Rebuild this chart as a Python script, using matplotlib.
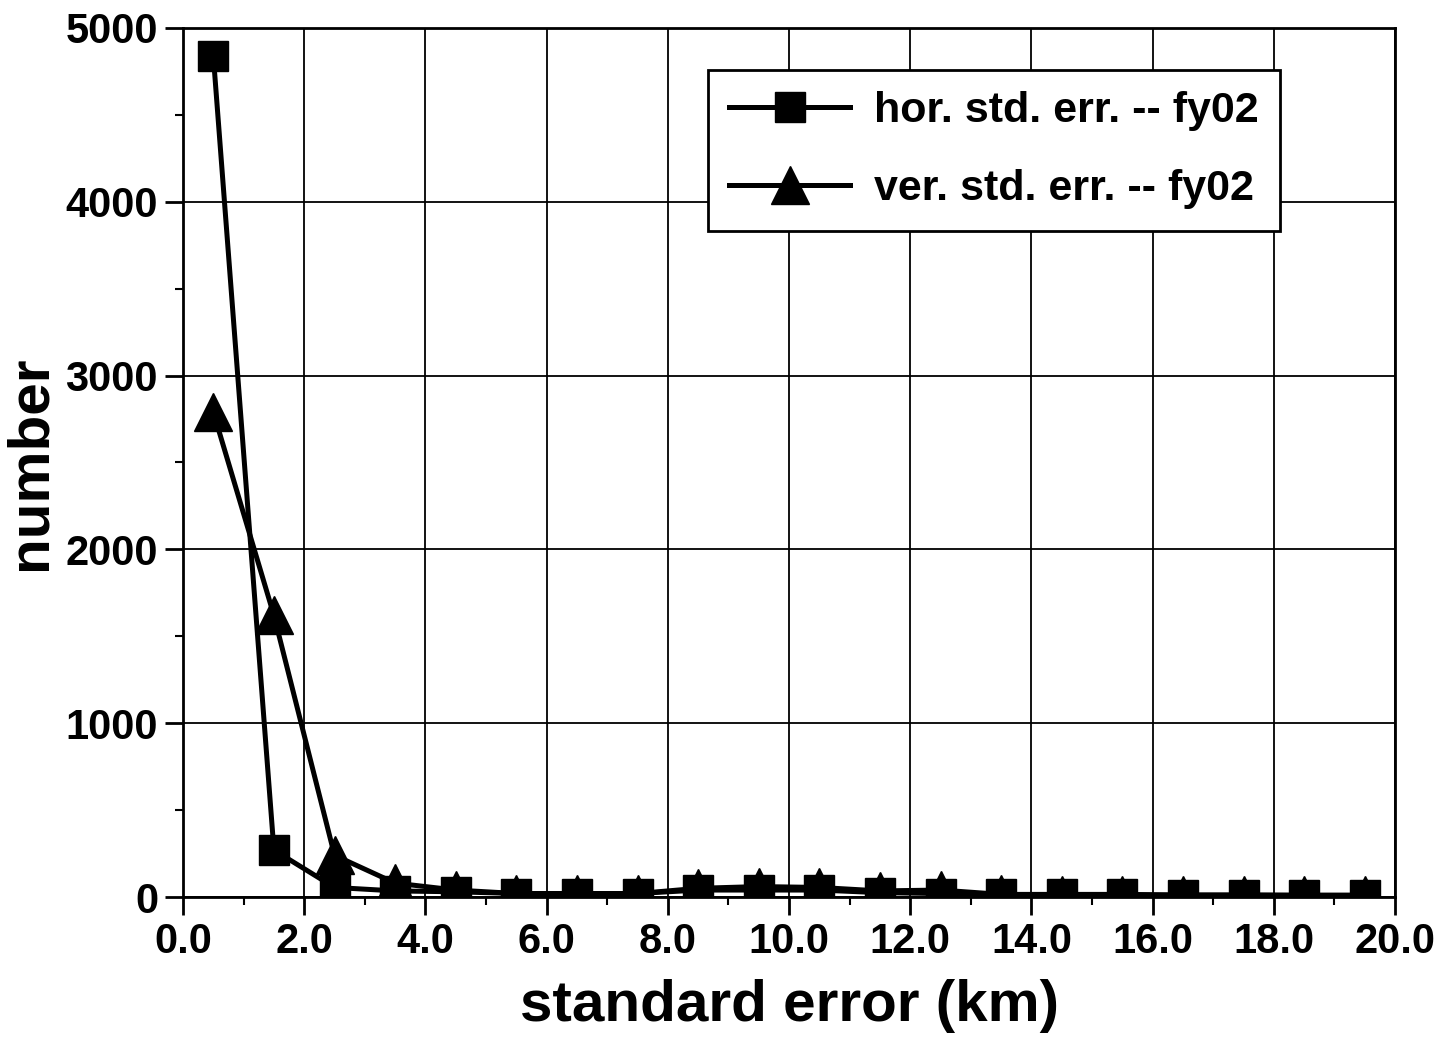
import numpy as np
import matplotlib.pyplot as plt
from matplotlib.ticker import MultipleLocator, FormatStrFormatter

plt.rcParams['font.family'] = ['Liberation Sans', 'DejaVu Sans']
plt.rcParams['font.weight'] = 'bold'

# bin centres (km)
err_km = [0.5, 1.5, 2.5, 3.5, 4.5, 5.5, 6.5, 7.5, 8.5, 9.5,
          10.5, 11.5, 12.5, 13.5, 14.5, 15.5, 16.5, 17.5, 18.5, 19.5]

# counts
hor_fy02 = [4840, 270, 55, 35, 30, 20, 20, 20, 40, 40,
            40, 25, 20, 15, 15, 15, 12, 12, 10, 10]
ver_fy02 = [2790, 1620, 240, 80, 40, 20, 20, 20, 50, 60,
            55, 35, 40, 15, 10, 10, 10, 10, 10, 10]

fig = plt.figure(figsize=(14.48, 10.44), dpi=100)
ax = fig.add_axes([0.1264, 0.1408, 0.837, 0.8324])

ax.plot(err_km, hor_fy02, color='black', lw=3.6, marker='s', ms=22,
        label='hor. std. err. -- fy02', zorder=3)
ax.plot(err_km, ver_fy02, color='black', lw=3.6, marker='^', ms=28,
        label='ver. std. err. -- fy02', zorder=3)

ax.set_xlim(0, 20)
ax.set_ylim(0, 5000)
ax.xaxis.set_major_locator(MultipleLocator(2))
ax.xaxis.set_minor_locator(MultipleLocator(1))
ax.yaxis.set_major_locator(MultipleLocator(1000))
ax.yaxis.set_minor_locator(MultipleLocator(500))
ax.xaxis.set_major_formatter(FormatStrFormatter('%.1f'))

ax.grid(True, which='major', color='black', lw=1.3)
for s in ax.spines.values():
    s.set_linewidth(2)
ax.tick_params(which='major', length=13, width=2, labelsize=30, pad=5)
ax.tick_params(which='minor', length=6, width=1.5)
for lab in ax.get_xticklabels() + ax.get_yticklabels():
    lab.set_fontweight('bold')

ax.set_xlabel('standard error (km)', fontsize=42, fontweight='bold', labelpad=12)
ax.set_ylabel('number', fontsize=42, fontweight='bold', labelpad=6)

leg = ax.legend(loc='upper right', bbox_to_anchor=(0.905, 0.952), borderaxespad=0,
                fontsize=31, fancybox=False, framealpha=1, edgecolor='black',
                handlelength=2.8, handletextpad=0.55, borderpad=0.5,
                labelspacing=0.88, markerscale=1.0)
leg.get_frame().set_linewidth(2)

fig.savefig('out.png', dpi=100)
